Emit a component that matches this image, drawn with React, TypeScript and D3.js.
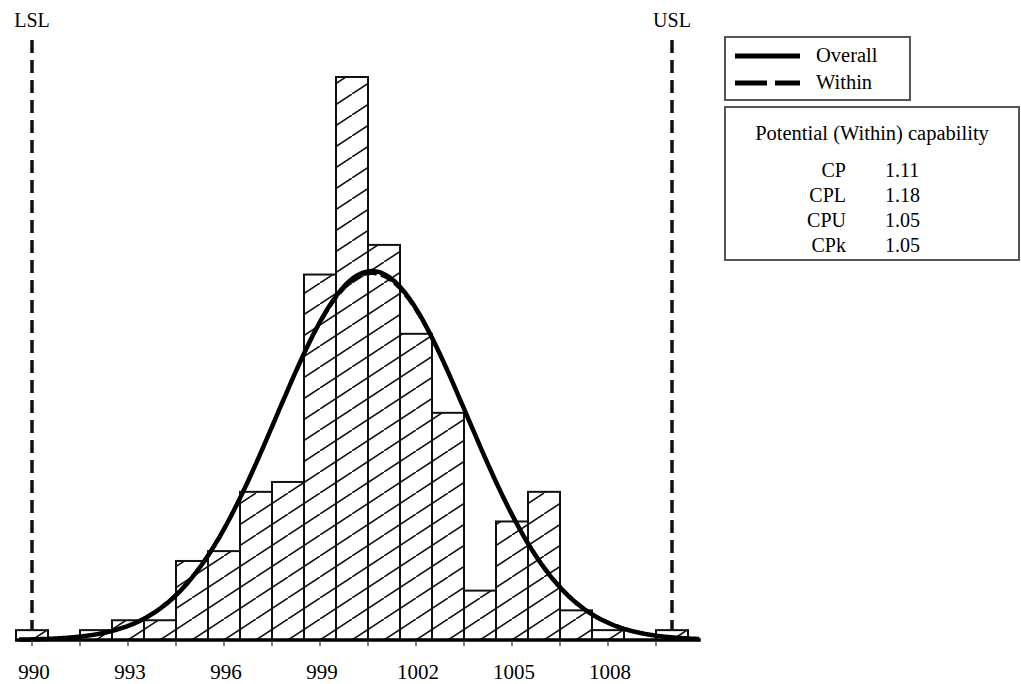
import React from "react";
import * as d3 from "d3";

// histogram bins (centre value, count)
const binCenters = [990, 991, 992, 993, 994, 995, 996, 997, 998, 999, 1000, 1001, 1002, 1003, 1004, 1005, 1006, 1007, 1008, 1009, 1010];
const binCounts = [1, 0, 1, 2, 2, 8, 9, 15, 16, 37, 57, 40, 31, 23, 5, 12, 15, 3, 1, 0, 1];
const binWidth = 1;

const tickValues = [990, 991.5, 993, 994.5, 996, 997.5, 999, 1000.5, 1002, 1003.5, 1005, 1006.5, 1008, 1009.5];
const tickLabels = [990, 993, 996, 999, 1002, 1005, 1008];

const LSL = 990;
const USL = 1010;
const overallMean = 1000.62;
const overallSigma = 2.98;
const withinSigma = 3.0;

const capLabels = ["CP", "CPL", "CPU", "CPk"];
const capValues = ["1.11", "1.18", "1.05", "1.05"];

const W = 1021;
const H = 684;
const font = "'Liberation Serif', 'Times New Roman', serif";

export default function App() {
    const x = d3.scaleLinear().domain([990, 1008]).range([32, 608]);
    const y = d3.scaleLinear().domain([0, 57]).range([640, 77]);

    const total = d3.sum(binCounts);
    const curvePts = (sigma: number) =>
        d3.range(989.6, 1010.9, 0.05).map(v => {
            const z = (v - overallMean) / sigma;
            const dens = (total * binWidth) / (sigma * Math.sqrt(2 * Math.PI)) * Math.exp(-0.5 * z * z);
            return [v, dens] as [number, number];
        });
    const line = d3.line<[number, number]>().x(d => x(d[0])).y(d => y(d[1])).curve(d3.curveBasis);

    return (
        <svg width={W} height={H} style={{ position: "absolute", left: 0, top: 0, background: "#fff" }}>
            <defs>
                <pattern id="hatch" patternUnits="userSpaceOnUse" width={32} height={21} x={0} y={640}>
                    <line x1={-2} y1={22.3} x2={34} y2={-1.3} stroke="#111" strokeWidth={1.6} />
                </pattern>
            </defs>

            {/* spec limits */}
            {[LSL, USL].map((v, i) => (
                <g key={i}>
                    <line x1={x(v)} x2={x(v)} y1={40} y2={636} stroke="#111" strokeWidth={3.5} strokeDasharray="13,7" />
                    <text x={x(v)} y={27} textAnchor="middle" fontFamily={font} fontSize={20}>{i === 0 ? "LSL" : "USL"}</text>
                </g>
            ))}

            {/* bars */}
            {binCenters.map((c, i) => binCounts[i] > 0 && (
                <g key={c}>
                    <rect x={x(c - binWidth / 2)} y={y(binCounts[i])} width={x(c + binWidth / 2) - x(c - binWidth / 2)}
                        height={y(0) - y(binCounts[i])} fill="#fff" />
                    <rect x={x(c - binWidth / 2)} y={y(binCounts[i])} width={x(c + binWidth / 2) - x(c - binWidth / 2)}
                        height={y(0) - y(binCounts[i])} fill="url(#hatch)" stroke="#111" strokeWidth={2} />
                </g>
            ))}

            {/* fitted curves */}
            <path d={line(curvePts(overallSigma)) || ""} fill="none" stroke="#000" strokeWidth={4.5} />
            <path d={line(curvePts(withinSigma)) || ""} fill="none" stroke="#000" strokeWidth={3} strokeDasharray="12,4" />

            {/* x axis */}
            <line x1={x(989.47)} x2={x(1010.9)} y1={640} y2={640} stroke="#000" strokeWidth={3.5} />
            {tickValues.map(t => (
                <line key={t} x1={x(t)} x2={x(t)} y1={640} y2={646} stroke="#333" strokeWidth={1.2} />
            ))}
            {tickLabels.map(t => (
                <text key={t} x={x(t) + 2} y={679} textAnchor="middle" fontFamily={font} fontSize={21}>{t}</text>
            ))}

            {/* legend */}
            <rect x={725} y={37} width={185} height={63} fill="#fff" stroke="#555" strokeWidth={2} />
            <line x1={735} x2={800} y1={56} y2={56} stroke="#000" strokeWidth={5} />
            <line x1={735} x2={800} y1={83} y2={83} stroke="#000" strokeWidth={5} strokeDasharray="32,8" />
            <text x={816} y={62} fontFamily={font} fontSize={20.5}>Overall</text>
            <text x={816} y={89} fontFamily={font} fontSize={20.5}>Within</text>

            {/* capability box */}
            <rect x={725} y={107} width={294} height={153} fill="#fff" stroke="#555" strokeWidth={2} />
            <text x={872} y={140} textAnchor="middle" fontFamily={font} fontSize={20.5}>Potential (Within) capability</text>
            {capLabels.map((l, i) => (
                <g key={l}>
                    <text x={846} y={177 + i * 25} textAnchor="end" fontFamily={font} fontSize={20}>{l}</text>
                    <text x={885} y={177 + i * 25} fontFamily={font} fontSize={20}>{capValues[i]}</text>
                </g>
            ))}
        </svg>
    );
}
